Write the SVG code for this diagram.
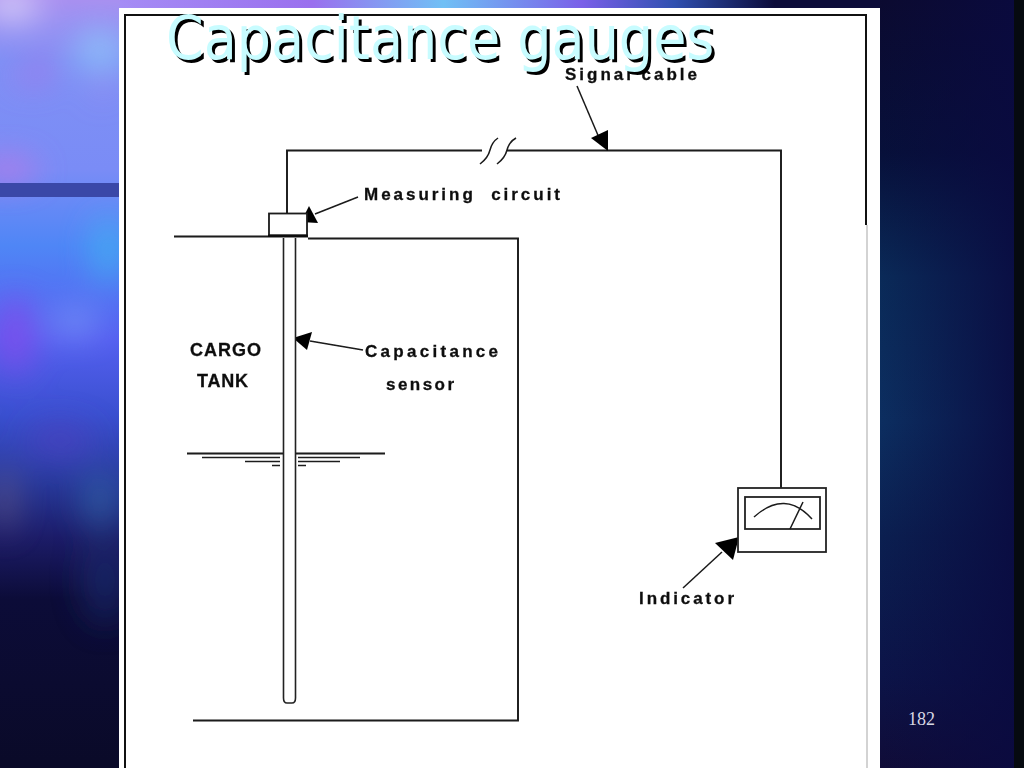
<svg xmlns="http://www.w3.org/2000/svg" width="1024" height="768" viewBox="0 0 1024 768">
<defs>
<linearGradient id="bgl" x1="0" y1="0" x2="0" y2="1">
<stop offset="0" stop-color="#a890f0"/><stop offset="0.08" stop-color="#7f90f5"/><stop offset="0.22" stop-color="#7a8cf6"/><stop offset="0.32" stop-color="#4f86f6"/><stop offset="0.44" stop-color="#5560f0"/><stop offset="0.54" stop-color="#3a50d0"/><stop offset="0.63" stop-color="#28389a"/><stop offset="0.7" stop-color="#1c1c68"/><stop offset="0.78" stop-color="#0c0c38"/><stop offset="1" stop-color="#0a0a28"/>
</linearGradient>
<linearGradient id="bgt" x1="0" y1="0" x2="1" y2="0">
<stop offset="0" stop-color="#a58cf5"/><stop offset="0.25" stop-color="#9a70ee"/><stop offset="0.42" stop-color="#70c0f5"/><stop offset="0.6" stop-color="#7a60e8"/><stop offset="0.72" stop-color="#3050b0"/><stop offset="0.85" stop-color="#0c0c3a"/><stop offset="1" stop-color="#0c0c3a"/>
</linearGradient>
<linearGradient id="bgr" x1="0" y1="0" x2="0" y2="1">
<stop offset="0" stop-color="#0b0a30"/><stop offset="0.2" stop-color="#07103a"/><stop offset="0.36" stop-color="#0a2a58"/><stop offset="0.55" stop-color="#0c2e60"/><stop offset="0.7" stop-color="#0b1f50"/><stop offset="0.88" stop-color="#0c1448"/><stop offset="1" stop-color="#100c38"/>
</linearGradient>
<linearGradient id="fade" x1="0" y1="0" x2="1" y2="0">
<stop offset="0" stop-color="#0a0a40" stop-opacity="0"/><stop offset="1" stop-color="#0a0a40" stop-opacity="0.85"/>
</linearGradient>
<filter id="b8" x="-50%" y="-50%" width="200%" height="200%"><feGaussianBlur stdDeviation="16"/></filter>
<filter id="b2"><feGaussianBlur stdDeviation="0.5"/></filter>
<filter id="b3"><feGaussianBlur stdDeviation="0.4"/></filter>
</defs>
<style>
.ln{fill:none;stroke:#1a1a1a;stroke-width:1.9}
.th{fill:none;stroke:#1a1a1a;stroke-width:1.5}
.lb{font-family:"Liberation Sans",Arial,sans-serif;font-weight:700;font-size:17px;fill:#111;stroke:#111;stroke-width:0.3}
.big{font-size:18px}
.ti{font-family:"DejaVu Sans",sans-serif;font-stretch:condensed;font-size:60px}
.hd{fill:#000;stroke:none}
</style>
<g id="background">
<rect width="1024" height="768" fill="#0a0a30"/>
<rect x="0" y="0" width="120" height="768" fill="url(#bgl)"/>
<rect x="120" y="0" width="770" height="8" fill="url(#bgt)"/>
<rect x="880" y="0" width="134" height="768" fill="url(#bgr)"/>
<rect x="880" y="0" width="134" height="768" fill="url(#fade)"/>
<rect x="1014" y="0" width="10" height="768" fill="#060a10"/>
<g filter="url(#b8)" opacity="0.7">
<ellipse cx="12" cy="6" rx="28" ry="12" fill="#fff"/>
<ellipse cx="100" cy="50" rx="26" ry="20" fill="#90d0fa"/>
<path d="M5 80L60 50L45 85z" fill="#b070e8"/>
<path d="M90 100L112 70L112 90z" fill="#c080e8"/>
<ellipse cx="8" cy="170" rx="30" ry="12" fill="#d070e0"/>
<ellipse cx="108" cy="250" rx="16" ry="34" fill="#40b8f0"/>
<ellipse cx="75" cy="322" rx="26" ry="14" fill="#7f9cf8"/>
<ellipse cx="15" cy="335" rx="20" ry="40" fill="#8a48ea"/>
<ellipse cx="5" cy="500" rx="8" ry="34" fill="#806a80"/>
<ellipse cx="100" cy="500" rx="18" ry="28" fill="#3068a8"/>
<ellipse cx="60" cy="440" rx="34" ry="16" fill="#5040c0"/>
<ellipse cx="105" cy="580" rx="22" ry="44" fill="#1c2a70"/>
</g>
</g>
<rect id="bar" x="0" y="183" width="120" height="14" fill="#3a48a8"/>
<g id="sheet">
<rect x="119" y="8" width="761" height="760" fill="#fff"/>
<path d="M125 768V15H866V225" fill="none" stroke="#111" stroke-width="2"/>
<path d="M867 225V768" fill="none" stroke="#c4c4c4" stroke-width="1.500"/>
</g>
<g id="connectors" filter="url(#b2)">
<path class="ln" d="M287 214V150.500H482M507 150.500H781V488"/>
<path class="th" d="M480 164Q488 158 490 150Q492 142 498 138M497 164Q505 158 507 150Q509 142 516 138"/>
<path class="ln" d="M174 236.500H268M308 238.500H518V720.500H193"/>
<path class="ln" d="M187 453.500H385"/>
<path class="th" d="M202 457.500H280M298 457.500H360M245 461.500H280M298 461.500H340M272 465.500H280M298 465.500H306"/>
<path class="th" d="M577 86L600 140"/>
<path class="hd" d="M608 151L591 138L608 130z"/>
<path class="th" d="M358 197L315 214"/>
<path class="hd" d="M301 222L309 206L318 223z"/>
<path class="th" d="M363 350L310 341"/>
<path class="hd" d="M293 338L312 332L307 350z"/>
<path class="th" d="M683 588L722 552"/>
<path class="hd" d="M739 537L733 560L715 543z"/>
</g>
<g id="measuring-circuit" filter="url(#b2)">
<rect x="269" y="213.500" width="38" height="22" fill="#fff" stroke="#1a1a1a" stroke-width="1.800"/>
<path d="M268 236H308" stroke="#111" stroke-width="3"/>
</g>
<g id="sensor" filter="url(#b2)">
<path d="M283.500 238V698Q283.500 703 287 703H292Q295.500 703 295.500 698V238" fill="#fff" stroke="#222" stroke-width="1.600"/>
</g>
<g id="indicator" filter="url(#b2)">
<rect x="738" y="488" width="88" height="64" fill="#fff" stroke="#222" stroke-width="1.800"/>
<rect x="745" y="497" width="75" height="32" fill="#fff" stroke="#222" stroke-width="1.800"/>
<path class="th" d="M754 517Q785 489 812 519M790 529L803 502"/>
</g>
<g id="labels" filter="url(#b3)">
<text class="lb" x="565" y="80" textLength="132" lengthAdjust="spacing">Signal cable</text>
<text class="lb" x="364" y="200" textLength="196" lengthAdjust="spacing" xml:space="preserve">Measuring  circuit</text>
<text class="lb big" x="190" y="356" textLength="71" lengthAdjust="spacing">CARGO</text>
<text class="lb big" x="197" y="387" textLength="51" lengthAdjust="spacing">TANK</text>
<text class="lb" x="365" y="357" textLength="133" lengthAdjust="spacing">Capacitance</text>
<text class="lb" x="386" y="390" textLength="68" lengthAdjust="spacing">sensor</text>
<text class="lb" x="639" y="604" textLength="95" lengthAdjust="spacing">Indicator</text>
</g>
<g id="title">
<text class="ti" x="169" y="62" fill="#000">Capacitance gauges</text>
<text class="ti" x="166" y="59" fill="#c8fcff">Capacitance gauges</text>
</g>
<text id="page" x="908" y="725" font-family="Liberation Serif,serif" font-size="18" fill="#d8d8e4">182</text>
</svg>
